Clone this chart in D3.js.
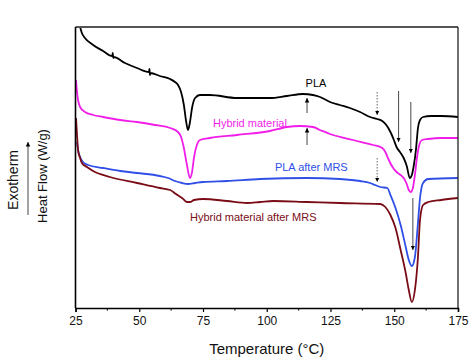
<!DOCTYPE html>
<html>
<head>
<meta charset="utf-8">
<script src="https://cdn.jsdelivr.net/npm/d3@7"></script>
<style>
  body { margin: 0; background: #fff; }
  svg { font-family: 'Liberation Sans', Arial, sans-serif; }
</style>
</head>
<body>
<div id="chart"></div>
<script>
// data: [temperature °C, heat flow W/g (offset)]
const pla = [
  [26.8, 2.81], [27.5, 2.75], [28.7, 2.70], [31.9, 2.63], [35.8, 2.57],
  [39.4, 2.52], [39.6, 2.55], [39.8, 2.50], [40.0, 2.51], [44.4, 2.45],
  [49.1, 2.40], [53.8, 2.36], [54.0, 2.39], [54.2, 2.33], [54.4, 2.35],
  [58.1, 2.32], [62.1, 2.29], [64.0, 2.26], [65.2, 2.23], [66.4, 2.16],
  [67.5, 2.03], [68.3, 1.88], [69.1, 1.78], [69.9, 1.86], [70.7, 2.00],
  [71.9, 2.10], [73.8, 2.13], [77.7, 2.13], [88.3, 2.10], [101.3, 2.10],
  [107.9, 2.12], [114.2, 2.14], [118.1, 2.13], [120.9, 2.11], [124.8, 2.06],
  [128.7, 2.03], [132.6, 2.00], [136.6, 1.96], [140.5, 1.91], [143.3, 1.89],
  [145.3, 1.87], [146.9, 1.83], [148.5, 1.76], [149.7, 1.69], [150.9, 1.61],
  [152.5, 1.55], [153.7, 1.50], [154.9, 1.42], [156.1, 1.30], [156.9, 1.33],
  [157.7, 1.43], [158.5, 1.58], [159.3, 1.80], [160.1, 1.88], [161.3, 1.91],
  [164.4, 1.92], [168.4, 1.92], [175.0, 1.91]
]
const hybrid = [
  [25.2, 2.28], [25.6, 2.16], [26.0, 2.08], [26.8, 2.01], [28.7, 1.96],
  [31.9, 1.93], [35.8, 1.91], [42.5, 1.88], [49.1, 1.86], [56.2, 1.83],
  [62.1, 1.80], [65.2, 1.76], [66.4, 1.71], [67.5, 1.60], [68.7, 1.43],
  [69.9, 1.30], [70.7, 1.36], [71.5, 1.51], [72.6, 1.63], [73.8, 1.68],
  [77.7, 1.70], [88.3, 1.73], [101.3, 1.77], [107.9, 1.81], [113.0, 1.82],
  [118.1, 1.81], [120.9, 1.78], [124.8, 1.74], [133.8, 1.68], [141.7, 1.63],
  [145.3, 1.60], [146.5, 1.56], [147.7, 1.49], [149.3, 1.41], [150.9, 1.36],
  [152.5, 1.33], [153.7, 1.30], [154.9, 1.24], [155.7, 1.18], [156.5, 1.16],
  [157.3, 1.20], [158.1, 1.33], [158.9, 1.50], [159.7, 1.62], [160.9, 1.68],
  [163.3, 1.69], [168.4, 1.70], [175.0, 1.70]
]
const plaMrs = [
  [25.6, 1.66], [26.0, 1.58], [26.8, 1.51], [27.9, 1.46], [29.9, 1.43],
  [35.8, 1.40], [42.5, 1.37], [49.1, 1.35], [58.1, 1.32], [61.3, 1.30],
  [64.0, 1.27], [66.8, 1.25], [69.1, 1.24], [71.9, 1.25], [75.0, 1.26],
  [84.4, 1.27], [97.4, 1.29], [115.8, 1.30], [128.7, 1.29], [136.6, 1.27],
  [140.5, 1.25], [142.5, 1.23], [144.5, 1.21], [147.3, 1.20], [148.5, 1.13],
  [150.5, 1.00], [152.5, 0.83], [154.5, 0.61], [155.7, 0.48], [156.9, 0.42],
  [158.1, 0.51], [159.3, 0.85], [160.1, 1.10], [161.3, 1.25], [163.3, 1.29],
  [175.0, 1.30]
]
const hybridMrs = [
  [25.2, 1.90], [25.6, 1.73], [26.0, 1.58], [26.8, 1.50], [27.5, 1.45],
  [29.5, 1.41], [31.9, 1.37], [38.5, 1.31], [49.1, 1.25], [58.1, 1.20],
  [62.1, 1.18], [64.4, 1.14], [66.8, 1.10], [68.7, 1.06], [69.9, 1.06],
  [71.5, 1.08], [75.0, 1.09], [84.4, 1.07], [92.3, 1.05], [97.4, 1.06],
  [102.5, 1.07], [115.8, 1.06], [128.7, 1.05], [144.5, 1.04], [146.5, 1.01],
  [148.5, 0.93], [150.5, 0.80], [152.5, 0.58], [154.5, 0.35], [155.7, 0.18],
  [156.9, 0.06], [158.1, 0.18], [159.3, 0.51], [160.1, 0.88], [161.3, 1.03],
  [163.3, 1.06], [168.4, 1.08], [175.0, 1.10]
]

const seriesNames = ['PLA', 'Hybrid material', 'PLA after MRS', 'Hybrid material after MRS']
const seriesColors = ['#000000', '#f01ee8', '#2f4fe6', '#7a0c16']
const seriesData = [pla, hybrid, plaMrs, hybridMrs]
// label anchor [T, value] and anchor type
const labelPos = [[119.3, 2.25, 'middle'], [78.9, 1.85, 'start'], [103.2, 1.41, 'start'], [69.9, 0.91, 'start']]

// arrows: temperature, from value, to value, dashed?
const arrows = [
  [115.8, 1.95, 2.10, false],
  [115.8, 1.63, 1.80, false],
  [143.3, 2.16, 1.93, true],
  [143.3, 1.50, 1.26, true],
  [151.7, 2.17, 1.66, false],
  [156.5, 2.06, 1.55, false],
  [157.3, 1.10, 0.58, false]
]

const xTicks = [25, 50, 75, 100, 125, 150, 175]
const xMinor = [37.5, 62.5, 87.5, 112.5, 137.5, 162.5]

const margin = { top: 27, left: 75.5, right: 16, bottom: 54 }
const W = 474
const H = 362
const width = W - margin.left - margin.right
const height = H - margin.top - margin.bottom

const svg = d3.select('#chart')
  .append('svg')
  .attr('width', W)
  .attr('height', H)

const g = svg.append('g')
  .attr('transform', 'translate(' + margin.left + ',' + margin.top + ')')

const xScale = d3.scaleLinear().domain([25, 175]).range([0, width])
const yScale = d3.scaleLinear().domain([0, 2.81]).range([height, 0])

const defs = svg.append('defs')
defs.append('marker')
  .attr('id', 'head')
  .attr('viewBox', '0 0 10 10')
  .attr('refX', 10).attr('refY', 5)
  .attr('markerWidth', 4.5).attr('markerHeight', 6)
  .attr('markerUnits', 'userSpaceOnUse')
  .attr('orient', 'auto')
  .append('path')
  .attr('d', 'M0,0L10,5L0,10z')
  .attr('fill', '#000')

defs.append('clipPath').attr('id', 'clip')
  .append('rect').attr('width', width).attr('height', height)

// curves
const line = d3.line()
  .x(d => xScale(d[0]))
  .y(d => yScale(d[1]))
  .curve(d3.curveMonotoneX)

g.append('g').attr('clip-path', 'url(#clip)')
  .selectAll('path')
  .data(seriesData)
  .enter()
  .append('path')
  .attr('d', d => line(d))
  .attr('fill', 'none')
  .attr('stroke', (d, i) => seriesColors[i])
  .attr('stroke-width', 1.8)
  .attr('stroke-linejoin', 'round')

// arrows
g.selectAll('.arrow')
  .data(arrows)
  .enter()
  .append('line')
  .attr('class', 'arrow')
  .attr('x1', d => xScale(d[0]))
  .attr('x2', d => xScale(d[0]))
  .attr('y1', d => yScale(d[1]))
  .attr('y2', d => yScale(d[2]))
  .attr('stroke', d => d[3] ? '#555' : '#333')
  .attr('stroke-width', 0.9)
  .attr('stroke-dasharray', d => d[3] ? '1.5,1.5' : null)
  .attr('marker-end', 'url(#head)')

// series labels
g.selectAll('.label')
  .data(seriesNames)
  .enter()
  .append('text')
  .attr('class', 'label')
  .attr('x', (d, i) => xScale(labelPos[i][0]))
  .attr('y', (d, i) => yScale(labelPos[i][1]))
  .attr('dy', '0.35em')
  .attr('text-anchor', (d, i) => labelPos[i][2])
  .attr('font-size', 11)
  .attr('fill', (d, i) => seriesColors[i])
  .text(d => d)

// frame
g.append('line')
  .attr('x1', 0).attr('x2', width).attr('y1', 0).attr('y2', 0)
  .attr('stroke', '#555').attr('stroke-width', 1.8)
g.append('line')
  .attr('x1', width).attr('x2', width).attr('y1', 0).attr('y2', height)
  .attr('stroke', '#222').attr('stroke-width', 1.3)
g.append('line')
  .attr('x1', 0).attr('x2', 0).attr('y1', 0).attr('y2', height)
  .attr('stroke', '#000').attr('stroke-width', 1.6)

// x axis
const xAxis = g.append('g')
  .attr('transform', 'translate(0,' + height + ')')
  .call(d3.axisBottom(xScale).tickValues(xTicks).tickSize(4).tickPadding(4).tickFormat(d3.format('d')))
xAxis.select('.domain').attr('stroke-width', 1.5)
xAxis.selectAll('.tick line').attr('stroke-width', 1.2)
xAxis.selectAll('text')
  .attr('font-size', 12)
  .attr('font-family', "'Liberation Sans', Arial, sans-serif")
  .attr('fill', '#111')

xAxis.selectAll('.minor')
  .data(xMinor)
  .enter()
  .append('line')
  .attr('class', 'minor')
  .attr('x1', d => xScale(d)).attr('x2', d => xScale(d))
  .attr('y1', 0).attr('y2', 2.5)
  .attr('stroke', '#000').attr('stroke-width', 1.1)

// axis titles
svg.append('text')
  .attr('x', margin.left + width / 2)
  .attr('y', 349)
  .attr('dy', '0.35em')
  .attr('text-anchor', 'middle')
  .attr('font-size', 15)
  .attr('fill', '#111')
  .text('Temperature (°C)')

svg.append('text')
  .attr('transform', 'translate(13,180) rotate(-90)')
  .attr('dy', '0.35em')
  .attr('text-anchor', 'middle')
  .attr('font-size', 14)
  .attr('fill', '#111')
  .text('Exotherm')

svg.append('text')
  .attr('transform', 'translate(42,176) rotate(-90)')
  .attr('dy', '0.35em')
  .attr('text-anchor', 'middle')
  .attr('font-size', 13)
  .attr('fill', '#111')
  .text('Heat Flow (W/g)')

svg.append('line')
  .attr('x1', 28).attr('x2', 28)
  .attr('y1', 215).attr('y2', 142)
  .attr('stroke', '#333').attr('stroke-width', 0.9)
  .attr('marker-end', 'url(#head)')
</script>
</body>
</html>
